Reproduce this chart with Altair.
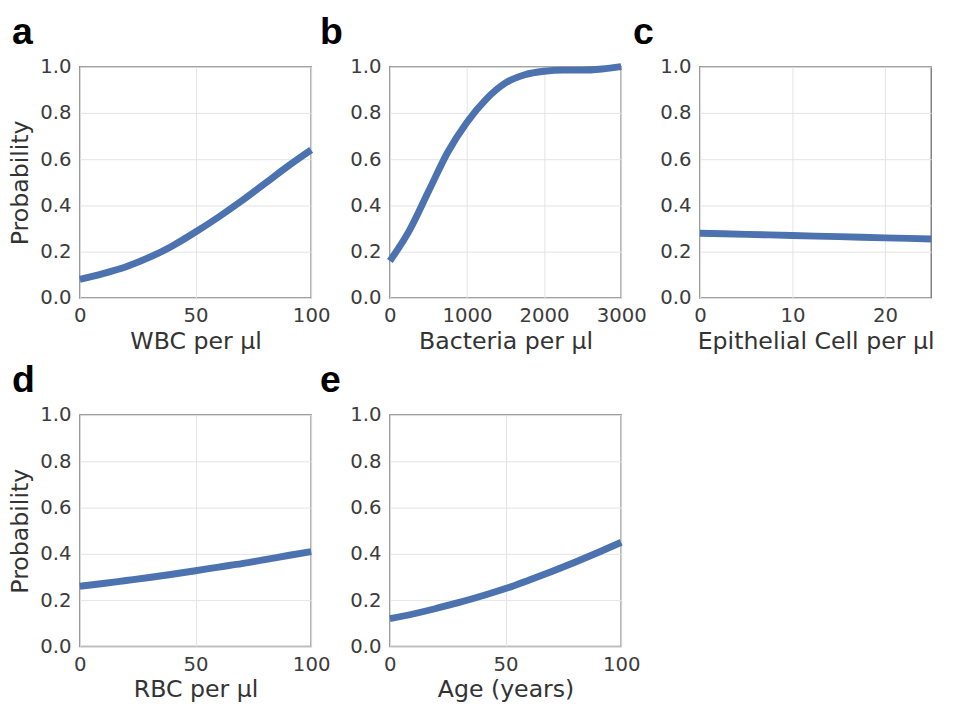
import altair as alt
import pandas as pd

# ---- data ----
wbc_x = [0, 10, 20, 30, 40, 50, 60, 70, 80, 90, 100]
wbc_p = [0.08, 0.105, 0.135, 0.175, 0.225, 0.285, 0.35, 0.42, 0.495, 0.57, 0.64]

bac_x = [0, 250, 500, 750, 1000, 1250, 1500, 1750, 2000, 2250, 2500, 2750, 3000]
bac_p = [0.16, 0.29, 0.46, 0.63, 0.76, 0.86, 0.93, 0.965, 0.98, 0.985, 0.985, 0.99, 1.0]

epi_x = [0, 5, 10, 15, 20, 25]
epi_p = [0.28, 0.275, 0.27, 0.265, 0.26, 0.255]

rbc_x = [0, 10, 20, 30, 40, 50, 60, 70, 80, 90, 100]
rbc_p = [0.26, 0.272, 0.285, 0.298, 0.312, 0.327, 0.343, 0.358, 0.375, 0.393, 0.41]

age_x = [0, 10, 20, 30, 40, 50, 60, 70, 80, 90, 100]
age_p = [0.12, 0.14, 0.164, 0.19, 0.219, 0.25, 0.286, 0.324, 0.364, 0.406, 0.45]

y_ticks = [0.0, 0.2, 0.4, 0.6, 0.8, 1.0]
panel_letters = ["a", "b", "c", "d", "e"]

FONT = "DejaVu Sans"
LINE = "#4c72b0"


def panel(xs, ps, xtitle, letter, xdomain, xticks, ytitle, dx):
    df = pd.DataFrame({"x": xs, "p": ps})
    yaxis_kw = dict(values=y_ticks, format=".1f", title=ytitle if ytitle else "")
    line = (
        alt.Chart(df)
        .mark_line(color=LINE, strokeWidth=7, interpolate="monotone")
        .encode(
            x=alt.X("x:Q", scale=alt.Scale(domain=xdomain, nice=False),
                    axis=alt.Axis(values=xticks, title=xtitle, format="d")),
            y=alt.Y("p:Q", scale=alt.Scale(domain=[0, 1], nice=False),
                    axis=alt.Axis(**yaxis_kw)),
        )
    )
    tag = (
        alt.Chart(pd.DataFrame({"t": [letter]}))
        .mark_text(font="Liberation Sans", fontSize=38, fontWeight="bold",
                   color="black", align="left", baseline="alphabetic")
        .encode(text="t:N", x=alt.value(dx), y=alt.value(-23))
    )
    return alt.layer(line, tag).properties(width=235, height=235)


a = panel(wbc_x, wbc_p, "WBC per µl", panel_letters[0], [0, 100], [0, 50, 100], "Probability", -69)
b = panel(bac_x, bac_p, "Bacteria per µl", panel_letters[1], [0, 3000], [0, 1000, 2000, 3000], None, -71)
c = panel(epi_x, epi_p, "Epithelial Cell per µl", panel_letters[2], [0, 25], [0, 10, 20], None, -68)
d = panel(rbc_x, rbc_p, "RBC per µl", panel_letters[3], [0, 100], [0, 50, 100], "Probability", -69)
e = panel(age_x, age_p, "Age (years)", panel_letters[4], [0, 100], [0, 50, 100], None, -71)

chart = (
    alt.concat(a, b, c, d, e, columns=3,
               spacing=alt.RowColnumber(row=119, column=80), bounds="flush")
    .properties(padding={"left": 0, "top": 0, "right": 0, "bottom": 0})
    .configure_view(stroke="#808080", strokeWidth=1.5)
    .configure_axis(
        domain=False, ticks=False, grid=True, gridColor="#e3e3e3", gridWidth=1,
        labelFont=FONT, labelFontSize=20, labelColor="#3c3c3c",
        labelFlush=False, labelOverlap=False, labelPadding=8,
        titleFont=FONT, titleFontSize=24, titleColor="#333333",
        titleFontWeight="normal", titlePadding=4,
    )
    .configure_axisY(labelPadding=9, titlePadding=7)
)

chart.save("out.html", embed_options={"renderer": "svg", "actions": False})
